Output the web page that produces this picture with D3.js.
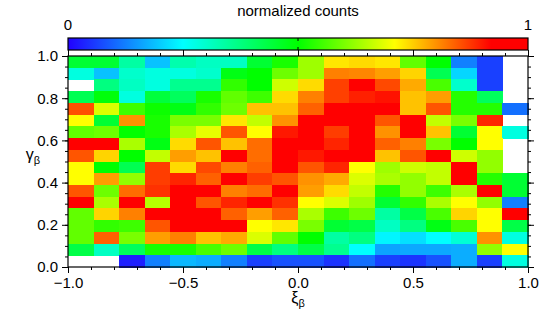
<!DOCTYPE html>
<html>
<head>
<meta charset="utf-8">
<script src="https://d3js.org/d3.v7.min.js"></script>
<style>
  html, body { margin: 0; padding: 0; background: #fff; }
  svg { display: block; font-family: "Liberation Sans", Arial, sans-serif; }
  .axis path, .axis line { stroke: #000; }
  .axis text { font-size: 15px; fill: #000; }
</style>
</head>
<body>
<svg id="chart" width="543" height="324"></svg>
<script>
// xi_beta bins (columns) and gamma_beta bins (rows)
const xiBins = d3.range(18);
const gammaBins = d3.range(18);

// normalized counts, rows listed from top (gamma = 1.0) to bottom (gamma = 0.0); null = empty bin
const counts = [
  [0.45, 0.45, 0.34, 0.19, 0.33, 0.31, 0.31, 0.45, 0.52, 0.63, 0.73, 0.74, 0.73, 0.58, 0.50, 0.125, 0.063, null],
  [0.28, 0.19, 0.30, 0.28, 0.28, 0.30, 0.48, 0.50, 0.59, 0.63, 0.815, 0.81, 0.79, 0.745, 0.42, 0.21, 0.063, null],
  [null, 0.375, 0.31, 0.28, 0.36, 0.36, 0.54, 0.50, 0.67, 0.74, 0.867, 0.95, 0.86, 0.78, 0.56, 0.30, 0.063, null],
  [0.42, 0.49, 0.28, 0.44, 0.41, 0.52, 0.58, 0.55, 0.74, 0.815, 0.867, 0.894, 0.905, 0.76, 0.79, 0.53, 0.41, null],
  [0.854, 0.68, 0.55, 0.51, 0.48, 0.54, 0.59, 0.76, 0.76, 0.84, 0.95, 0.95, 0.95, 0.76, 0.85, 0.53, 0.53, 0.11],
  [0.71, 0.45, 0.80, 0.52, 0.60, 0.60, 0.73, 0.66, 0.80, 0.95, 0.95, 0.95, 0.85, 0.95, 0.66, 0.60, 0.89, null],
  [0.58, 0.59, 0.50, 0.52, 0.64, 0.69, 0.85, 0.71, 0.90, 0.95, 0.87, 0.95, 0.80, 0.95, 0.76, 0.45, 0.71, 0.28],
  [0.95, 0.95, 0.64, 0.48, 0.74, 0.85, 0.76, 0.83, 0.95, 0.95, 0.89, 0.95, 0.84, 0.815, 0.60, 0.50, 0.71, null],
  [0.85, 0.745, 0.50, 0.66, 0.79, 0.76, 0.95, 0.83, 0.95, 0.90, 0.95, 0.95, 0.76, 0.85, 0.95, 0.67, 0.62, null],
  [0.71, 0.50, 0.42, 0.87, 0.74, 0.86, 0.815, 0.84, 0.95, 0.85, 0.89, 0.71, 0.63, 0.67, 0.66, 0.95, 0.62, null],
  [0.71, 0.79, 0.62, 0.87, 0.89, 0.84, 0.95, 0.87, 0.85, 0.80, 0.78, 0.68, 0.64, 0.62, 0.66, 0.95, 0.53, 0.45],
  [0.85, 0.59, 0.83, 0.88, 0.95, 0.95, 0.815, 0.83, 0.95, 0.79, 0.74, 0.66, 0.53, 0.62, 0.55, 0.64, 0.95, 0.45],
  [0.95, 0.64, 0.95, 0.65, 0.95, 0.85, 0.89, 0.95, 0.88, 0.71, 0.68, 0.63, 0.45, 0.54, 0.64, 0.71, 0.62, 0.125],
  [0.58, 0.745, 0.815, 0.95, 0.95, 0.95, 0.84, 0.79, 0.84, 0.64, 0.55, 0.59, 0.34, 0.43, 0.56, 0.745, 0.71, 0.95],
  [0.58, 0.54, 0.55, 0.85, 0.95, 0.95, 0.95, 0.71, 0.73, 0.60, 0.45, 0.43, 0.31, 0.375, 0.48, 0.56, 0.71, 0.43],
  [0.58, 0.84, 0.60, 0.79, 0.815, 0.76, 0.78, 0.68, 0.58, 0.50, 0.34, 0.375, 0.24, 0.22, 0.25, 0.29, 0.80, 0.28],
  [0.43, 0.31, 0.41, 0.52, 0.52, 0.56, 0.59, 0.43, 0.375, 0.43, 0.36, 0.25, 0.16, 0.165, 0.165, 0.17, 0.62, 0.71],
  [null, null, 0.03, 0.125, 0.18, 0.17, 0.125, 0.063, 0.08, 0.08, 0.05, 0.11, 0.063, 0.05, 0.08, 0.17, 0.063, 0.28]
];

const xTicks = [-1.0, -0.5, 0.0, 0.5, 1.0];
const yTicks = [0.0, 0.2, 0.4, 0.6, 0.8, 1.0];
const xMinorTicks = d3.range(-1, 1.0001, 0.1);
const yMinorTicks = d3.range(0, 1.0001, 0.05);

const colorStops = [0, 0.25, 0.5, 0.71, 0.92, 1];
const colorRange = ['#2200ff', '#00ffff', '#00ff00', '#ffff00', '#ff0000', '#ff0000'];

const margin = {left: 68, right: 15, top: 56, bottom: 57};
const width = 543, height = 324;
const plotW = width - margin.left - margin.right;
const plotH = height - margin.top - margin.bottom;

const svg = d3.select('#chart');

const x = d3.scaleLinear().domain([-1, 1]).range([margin.left, margin.left + plotW]);
const y = d3.scaleLinear().domain([0, 1]).range([margin.top + plotH, margin.top]);
const col = d3.scaleBand().domain(xiBins).range([margin.left, margin.left + plotW]);
const row = d3.scaleBand().domain(gammaBins).range([margin.top, margin.top + plotH]);
const color = d3.scaleLinear().domain(colorStops).range(colorRange);

// cells
const cells = [];
counts.forEach((r, i) => r.forEach((v, j) => { if (v !== null) cells.push({i, j, v}); }));
svg.append('g')
    .selectAll('rect')
    .data(cells)
    .join('rect')
    .attr('x', d => col(d.j))
    .attr('y', d => row(d.i))
    .attr('width', col.bandwidth() + 0.5)
    .attr('height', row.bandwidth() + 0.5)
    .attr('fill', d => color(d.v))
    .attr('shape-rendering', 'crispEdges');

// axes: major + minor ticks on all four sides, pointing out
function addAxis(axisFn, scale, major, minor, transform, labels) {
    const g = svg.append('g').attr('class', 'axis').attr('transform', transform);
    g.call(axisFn(scale).tickValues(minor).tickSize(3).tickFormat(''));
    const m = svg.append('g').attr('class', 'axis').attr('transform', transform);
    m.call(axisFn(scale).tickValues(major).tickSize(6).tickPadding(4)
        .tickFormat(labels ? d3.format('.1f') : ''));
    m.select('.domain').remove();
    g.select('.domain').remove();
    return m;
}
addAxis(d3.axisBottom, x, xTicks, xMinorTicks, `translate(0,${margin.top + plotH})`, true);
addAxis(d3.axisTop, x, xTicks, xMinorTicks, `translate(0,${margin.top})`, false);
addAxis(d3.axisLeft, y, yTicks, yMinorTicks, `translate(${margin.left},0)`, true);
addAxis(d3.axisRight, y, yTicks, yMinorTicks, `translate(${margin.left + plotW},0)`, false);

svg.append('rect')
    .attr('x', margin.left).attr('y', margin.top)
    .attr('width', plotW).attr('height', plotH)
    .attr('fill', 'none').attr('stroke', '#000').attr('stroke-width', 1.2);

// axis titles
svg.append('text')
    .attr('x', x(0)).attr('y', 303)
    .attr('text-anchor', 'middle').attr('font-size', 16)
    .html('ξ<tspan font-size="11" dy="4">β</tspan>');
svg.append('text')
    .attr('x', 33).attr('y', 160)
    .attr('text-anchor', 'middle').attr('font-size', 16)
    .html('γ<tspan font-size="11" dy="4">β</tspan>');

// colorbar
const cb = {x: margin.left, y: 38, w: plotW, h: 12};
const grad = svg.append('defs').append('linearGradient').attr('id', 'cbgrad');
grad.selectAll('stop')
    .data(colorStops)
    .join('stop')
    .attr('offset', d => d)
    .attr('stop-color', d => color(d));
svg.append('rect')
    .attr('x', cb.x).attr('y', cb.y).attr('width', cb.w).attr('height', cb.h)
    .attr('fill', 'url(#cbgrad)').attr('stroke', '#000').attr('stroke-width', 1.2);
const cbScale = d3.scaleLinear().domain([0, 1]).range([cb.x, cb.x + cb.w]);
svg.append('line')
    .attr('x1', cbScale(0.5)).attr('x2', cbScale(0.5))
    .attr('y1', cb.y).attr('y2', cb.y + 3).attr('stroke', '#000');
svg.append('line')
    .attr('x1', cbScale(0.5)).attr('x2', cbScale(0.5))
    .attr('y1', cb.y + cb.h - 3).attr('y2', cb.y + cb.h).attr('stroke', '#000');
svg.selectAll('.cblabel')
    .data([0, 1])
    .join('text')
    .attr('class', 'cblabel')
    .attr('x', d => cbScale(d)).attr('y', 30)
    .attr('text-anchor', 'middle').attr('font-size', 15)
    .text(d => d);
svg.append('text')
    .attr('x', cbScale(0.5)).attr('y', 16)
    .attr('text-anchor', 'middle').attr('font-size', 15)
    .text('normalized counts');
</script>
</body>
</html>
